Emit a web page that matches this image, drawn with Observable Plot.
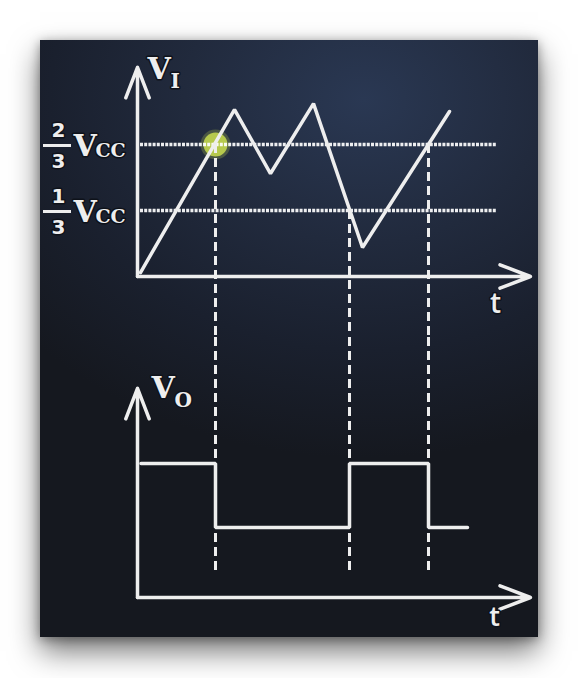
<!DOCTYPE html>
<html><head><meta charset="utf-8">
<script src="https://cdn.jsdelivr.net/npm/d3@7"></script>
<script src="https://cdn.jsdelivr.net/npm/@observablehq/plot@0.6"></script>
<style>
html,body{margin:0;padding:0;background:#fff;width:578px;height:678px;overflow:hidden;}
#board{position:absolute;left:40px;top:40px;width:498px;height:597px;
  background:radial-gradient(ellipse 90% 60% at 65% 10%, #2a3853 0%, #212a3d 40%, #1a202e 70%, #15181f 100%);
  box-shadow:0 14px 28px rgba(0,0,0,0.55), 0 2px 10px rgba(0,0,0,0.35);}
#board svg{display:block;overflow:hidden;background:transparent;}
</style></head><body><div id="board"></div>
<script>
// ---- data (time in arbitrary units, voltage in units of Vcc/3) ----
const viTime  = [0.3, 9.7, 13.3, 17.6, 22.5, 31.2];
const viValue = [0.06, 2.53, 1.56, 2.62, 0.44, 2.5];
const thresholds = [2, 1];             // 2/3 Vcc and 1/3 Vcc
const numerators = ["2", "1"];
const denominator = "3";
const crossTime  = [7.8, 21.2, 29.1];  // comparator switching instants
const crossValue = [2, 1, 2];
const voTime  = [0.35, 7.8, 21.2, 29.1, 33.0];
const voValue = [2.03, 1.06, 2.03, 1.06, 1.06];
const thresholdSpan = [0.3, 36];
const axisTop = 3.17, axisRight = 39.3, dashEnd = 0.41;

const vi = viTime.map((t, i) => ({t, v: viValue[i]}));
const vo = voTime.map((t, i) => ({t, v: voValue[i]}));
const crossings = crossTime.map((t, i) => ({t, v: crossValue[i]}));
const fracs = thresholds.map((v, i) => ({v, num: numerators[i], den: denominator}));

const INK = "#eeeeee", HALO = "#0e121a";
const common = {
  width: 498, marginLeft: 97, marginRight: 1,
  x: {domain: [0, 40], axis: null},
  y: {domain: [0, 3.2], axis: null},
  style: {background: "transparent", color: INK, overflow: "hidden"}
};
const axes = [
  Plot.arrow([{}], {x1: 0, y1: 0, x2: 0, y2: axisTop, stroke: INK, strokeWidth: 3.5, headLength: 14, headAngle: 42}),
  Plot.arrow([{}], {x1: 0, y1: 0, x2: axisRight, y2: 0, stroke: INK, strokeWidth: 3.5, headLength: 14, headAngle: 42})
];
const textStyle = {fill: INK, stroke: HALO, strokeWidth: 3, paintOrder: "stroke"};

const upper = Plot.plot({
  ...common, height: 295, marginTop: 24.8, marginBottom: 59,
  marks: [
    Plot.dot(crossings.slice(0, 1), {x: "t", y: "v", r: 15, fill: "#c4d84e", fillOpacity: 0.25}),
    Plot.dot(crossings.slice(0, 1), {x: "t", y: "v", r: 12, fill: "#c2d64f", fillOpacity: 0.9}),
    Plot.ruleY(thresholds, {y: d => d, x1: thresholdSpan[0], x2: thresholdSpan[1], stroke: "#ffffff", strokeWidth: 3.5, strokeDasharray: "3,1.2", strokeOpacity: 0.92}),
    Plot.ruleX(crossings, {x: "t", y1: "v", y2: -3, stroke: INK, strokeWidth: 3, strokeDasharray: "9,5"}),
    ...axes,
    Plot.line(vi, {x: "t", y: "v", stroke: INK, strokeWidth: 3.5, strokeLinejoin: "miter"}),
    // threshold labels
    Plot.text(fracs, {x: -7.9, y: "v", text: "num", dy: -13.5, fontSize: 20, fontWeight: "bold", fontFamily: "DejaVu Sans", ...textStyle}),
    Plot.ruleY(fracs, {y: "v", x1: -9.4, x2: -6.6, dy: 1, stroke: INK, strokeWidth: 3}),
    Plot.text(fracs, {x: -7.9, y: "v", text: "den", dy: 17, fontSize: 20, fontWeight: "bold", fontFamily: "DejaVu Sans", ...textStyle}),
    Plot.text(fracs, {x: -6.4, y: "v", text: () => "V", textAnchor: "start", dy: 2, fontSize: 30, fontWeight: "bold", fontFamily: "DejaVu Serif", ...textStyle}),
    Plot.text(fracs, {x: -4.2, y: "v", text: () => "CC", textAnchor: "start", dy: 6.5, fontSize: 19, fontWeight: "bold", fontFamily: "DejaVu Serif", ...textStyle}),
    // axis labels
    Plot.text(["V"], {x: 1.0, y: 3.14, text: d => d, textAnchor: "start", fontSize: 30, fontWeight: "bold", fontFamily: "DejaVu Serif", ...textStyle}),
    Plot.text(["I"], {x: 3.3, y: 2.96, text: d => d, textAnchor: "start", fontSize: 20, fontWeight: "bold", fontFamily: "DejaVu Serif", ...textStyle}),
    Plot.text(["t"], {x: 35.8, y: -0.42, text: d => d, fontSize: 28, fontWeight: 600, fontFamily: "Open Sans", ...textStyle})
  ]
});

const lower = Plot.plot({
  ...common, height: 302, marginTop: 50.8, marginBottom: 40,
  marks: [
    Plot.ruleX(crossings, {x: "t", y1: 5, y2: dashEnd, stroke: INK, strokeWidth: 3, strokeDasharray: "9,5"}),
    ...axes,
    Plot.line(vo, {x: "t", y: "v", curve: "step-after", stroke: INK, strokeWidth: 3.5, strokeLinejoin: "miter"}),
    Plot.text(["V"], {x: 1.4, y: 3.17, text: d => d, textAnchor: "start", fontSize: 30, fontWeight: "bold", fontFamily: "DejaVu Serif", ...textStyle}),
    Plot.text(["O"], {x: 3.7, y: 2.98, text: d => d, textAnchor: "start", fontSize: 20, fontWeight: "bold", fontFamily: "DejaVu Serif", ...textStyle}),
    Plot.text(["t"], {x: 35.7, y: -0.3, text: d => d, fontSize: 27, fontWeight: 600, fontFamily: "Open Sans", ...textStyle})
  ]
});

const board = document.getElementById("board");
board.appendChild(upper);
board.appendChild(lower);
</script></body></html>
